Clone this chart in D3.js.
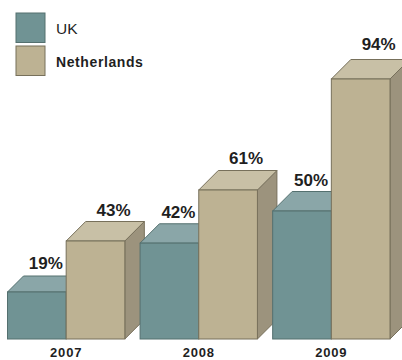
<!DOCTYPE html>
<html>
<head>
<meta charset="utf-8">
<script src="https://cdn.jsdelivr.net/npm/d3@7"></script>
<style>
  html, body { margin: 0; padding: 0; background: #fff; }
  svg { display: block; }
  text { font-family: "Liberation Sans", Arial, sans-serif; fill: #1f1f1f; }
</style>
</head>
<body>
<svg id="chart" width="402" height="360"></svg>
<script>
// Share of respondents per year and country
const years = ["2007", "2008", "2009"];
const seriesNames = ["UK", "Netherlands"];
const ukValues = [19, 42, 50];
const netherlandsValues = [43, 61, 94];

const palette = {
  UK: { front: "#709394", top: "#8aa6a8", side: "#5f7f80", edge: "#54706f" },
  Netherlands: { front: "#bdb293", top: "#c8c0a6", side: "#9c937d", edge: "#77705b" }
};

const svg = d3.select("#chart");
const baseline = 339;

// Years spread across the width, with the two countries side by side in each
const xYear = d3.scaleBand().domain(years).range([7.5, 390]).paddingInner(0.115);
const xSeries = d3.scaleBand().domain(seriesNames).range([0, xYear.bandwidth()]);

// The vertical scale of this chart is uneven, so it is defined through several knots
const y = d3.scaleLinear()
  .domain([0, 19, 43, 50, 61, 94])
  .range([baseline, 292, 241, 211, 190, 79]);

// Depth of the 3D extrusion is slightly smaller on the shortest bar
const depth = d3.scaleLinear().domain([19, 43]).range([16, 19.5]).clamp(true);

// Gap between a bar top and its label widens a little with the value
const labelGap = d3.scaleLinear().domain([19, 94]).range([23, 29]);

const rows = years.flatMap((year, i) => [
  { year, series: "UK", value: ukValues[i], labelShift: 9 },
  { year, series: "Netherlands", value: netherlandsValues[i], labelShift: 18 }
]);

const poly = pts => pts.map(p => p.join(",")).join(" ");

// Painted left to right so that each bar covers the side of its left neighbour
const bars = svg.append("g").selectAll("g").data(rows).join("g");

bars.each(function (d) {
  const g = d3.select(this);
  const c = palette[d.series];
  const x0 = xYear(d.year) + xSeries(d.series);
  const x1 = x0 + xSeries.bandwidth();
  const top = y(d.value);
  const k = depth(d.value);

  g.append("polygon")
    .attr("points", poly([[x1, top], [x1 + k, top - k], [x1 + k, baseline - k], [x1, baseline]]))
    .attr("fill", c.side).attr("stroke", c.edge).attr("stroke-width", 1);
  g.append("polygon")
    .attr("points", poly([[x0, top], [x0 + k, top - k], [x1 + k, top - k], [x1, top]]))
    .attr("fill", c.top).attr("stroke", c.edge).attr("stroke-width", 1);
  g.append("rect")
    .attr("x", x0).attr("y", top)
    .attr("width", x1 - x0).attr("height", baseline - top)
    .attr("fill", c.front).attr("stroke", c.edge).attr("stroke-width", 1);
});

// Percentage labels above the bars
svg.append("g").selectAll("text").data(rows).join("text")
  .attr("x", d => xYear(d.year) + xSeries(d.series) + xSeries.bandwidth() / 2 + d.labelShift)
  .attr("y", d => y(d.value) - labelGap(d.value))
  .attr("text-anchor", "middle")
  .attr("font-size", 17)
  .attr("font-weight", 700)
  .text(d => d.value + "%");

// Year labels under each pair
svg.append("g").selectAll("text").data(years).join("text")
  .attr("x", d => xYear(d) + xYear.bandwidth() / 2)
  .attr("y", 357)
  .attr("text-anchor", "middle")
  .attr("font-size", 13)
  .attr("letter-spacing", 0.8)
  .attr("font-weight", 700)
  .text(d => d);

// Legend
const legendY = d3.scalePoint().domain(seriesNames).range([13, 46]);
const legend = svg.append("g").selectAll("g").data(seriesNames).join("g")
  .attr("transform", d => `translate(16,${legendY(d)})`);
legend.append("rect")
  .attr("width", 29).attr("height", 29.5)
  .attr("fill", d => palette[d].front)
  .attr("stroke", d => palette[d].edge).attr("stroke-width", 1);
legend.append("text")
  .attr("x", 40).attr("y", 20.5)
  .attr("font-size", d => d === "UK" ? 15.5 : 14)
  .attr("letter-spacing", d => d === "UK" ? 0 : 0.6)
  .attr("font-weight", d => d === "UK" ? 400 : 700)
  .text(d => d);
</script>
</body>
</html>
